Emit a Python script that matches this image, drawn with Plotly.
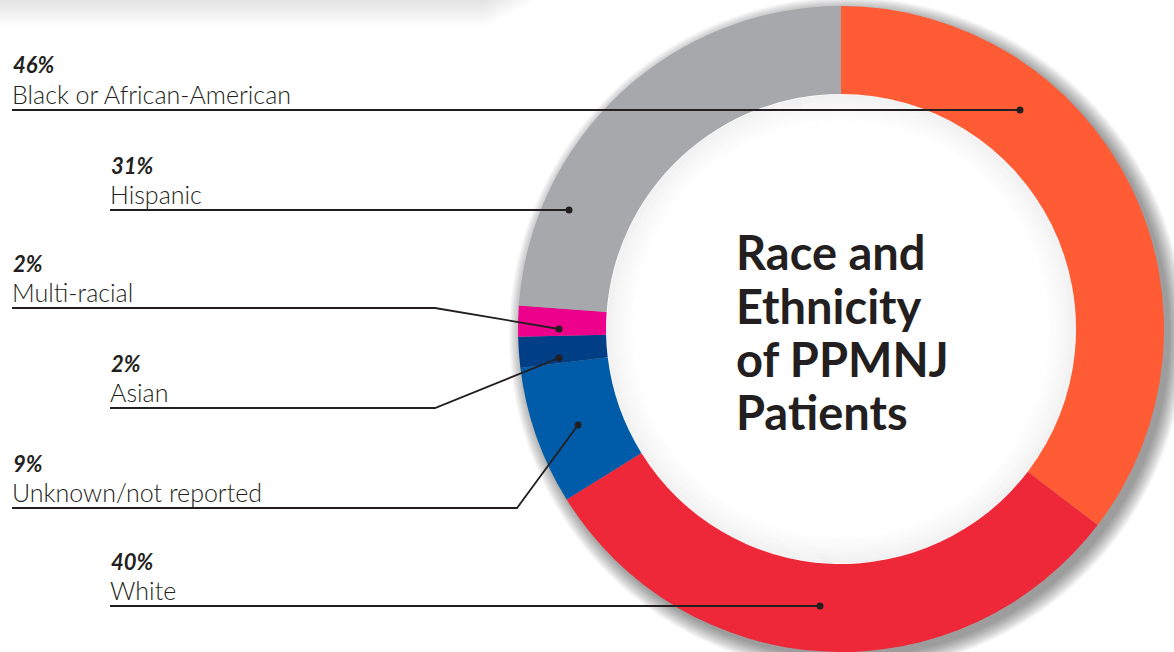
import plotly.graph_objects as go

W, H = 1174, 652

# ---- data ----
labels = ["Black or African-American", "White", "Unknown/not reported", "Asian", "Multi-racial", "Hispanic"]
values = [46, 40, 9, 2, 2, 31]
pct_text = ["46%", "40%", "9%", "2%", "2%", "31%"]
colors = ["#FF5B35", "#EE2839", "#005CA9", "#003E86", "#EC008C", "#A7A8AC"]
title_lines = ["Race and", "Ethnicity", "of PPMNJ", "Patients"]

# ---- layout helpers (pixel -> paper) ----
def px(x):
    return x / W

def py(y):
    return 1 - y / H

CX, CY, R = 841, 329, 323
R_IN = 235
INK = "#231F20"
FONT = "Lato"

fig = go.Figure(go.Pie(
    labels=labels, values=values, sort=False, direction="clockwise", rotation=0,
    hole=R_IN / R, textinfo="none", hoverinfo="label+value",
    marker=dict(colors=colors, line=dict(width=0)),
    domain=dict(x=[px(CX - R - 1), px(CX + R + 1)], y=[0, 2 * R / H]),
    showlegend=False,
))

shapes = []

def circle(cx, cy, r, **kw):
    return dict(type="circle", xref="paper", yref="paper",
                x0=px(cx - r), x1=px(cx + r), y0=py(cy + r), y1=py(cy - r), **kw)

# top-left soft page shadow
for k in range(1, 28):
    shapes.append(dict(type="rect", xref="paper", yref="paper", layer="below",
                       x0=0, x1=px(540 - k * 2), y0=py(k), y1=1,
                       fillcolor="rgba(0,0,0,0.0045)", line=dict(width=0)))

# outer drop shadow of the ring
for s in range(0, 16):
    shapes.append(circle(CX + 6, CY + 6, R + s, layer="below",
                         fillcolor="rgba(0,0,0,0.026)", line=dict(width=0)))
# white disc to keep the hole clean
shapes.append(circle(CX, CY, R_IN + 2, layer="below", fillcolor="white", line=dict(width=0)))

# inner shadow inside the hole
for s in range(1, 34):
    a = 0.04 * (1 - (s - 1) / 33) ** 1.3
    shapes.append(circle(CX, CY, R_IN - s, layer="above", fillcolor="rgba(0,0,0,0)",
                         line=dict(width=1.5, color=f"rgba(0,0,0,{a:.3f})")))

# ---- callouts (label x, line y, path points, dot) ----
callouts = {
    "Black or African-American": dict(x=12, pts=[(12, 110), (1020, 110)]),
    "Hispanic": dict(x=110, pts=[(110, 210), (569, 210)]),
    "Multi-racial": dict(x=12, pts=[(12, 308), (435, 308), (559, 329)]),
    "Asian": dict(x=110, pts=[(110, 408), (435, 408), (559, 358)]),
    "Unknown/not reported": dict(x=12, pts=[(12, 508), (517, 508), (578, 425)]),
    "White": dict(x=110, pts=[(110, 606), (820, 606)]),
}

annotations = []
for lab, pt in zip(labels, pct_text):
    c = callouts[lab]
    pts = c["pts"]
    ly = pts[0][1]
    path = "M " + " L ".join(f"{px(x)},{py(y)}" for x, y in pts)
    shapes.append(dict(type="path", xref="paper", yref="paper", path=path,
                       line=dict(color=INK, width=1.8)))
    dx, dy = pts[-1]
    shapes.append(circle(dx, dy, 3.5, fillcolor=INK, line=dict(width=0)))
    annotations.append(dict(x=px(c["x"] - 1), y=py(ly - 45), xref="paper", yref="paper",
                            text=f"<b><i>{pt}</i></b>", showarrow=False,
                            xanchor="left", yanchor="middle",
                            font=dict(family=FONT, size=22, color=INK)))
    annotations.append(dict(x=px(c["x"] - 2), y=py(ly - 16), xref="paper", yref="paper",
                            text=lab, showarrow=False,
                            xanchor="left", yanchor="middle",
                            font=dict(family=FONT, size=25, color=INK, weight=300)))

for i, t in enumerate(title_lines):
    annotations.append(dict(x=px(734), y=py(252 + i * 53.5), xref="paper", yref="paper",
                            text=f"<b>{t}</b>", showarrow=False,
                            xanchor="left", yanchor="middle",
                            font=dict(family=FONT, size=47, color=INK, weight=900)))

fig.update_layout(
    width=W, height=H, margin=dict(l=0, r=0, t=0, b=0),
    paper_bgcolor="white", plot_bgcolor="white",
    shapes=shapes, annotations=annotations,
)

fig.write_html("out.html", config={"displayModeBar": False},
               post_script="document.body.style.margin='0';document.body.style.overflow='hidden';")
